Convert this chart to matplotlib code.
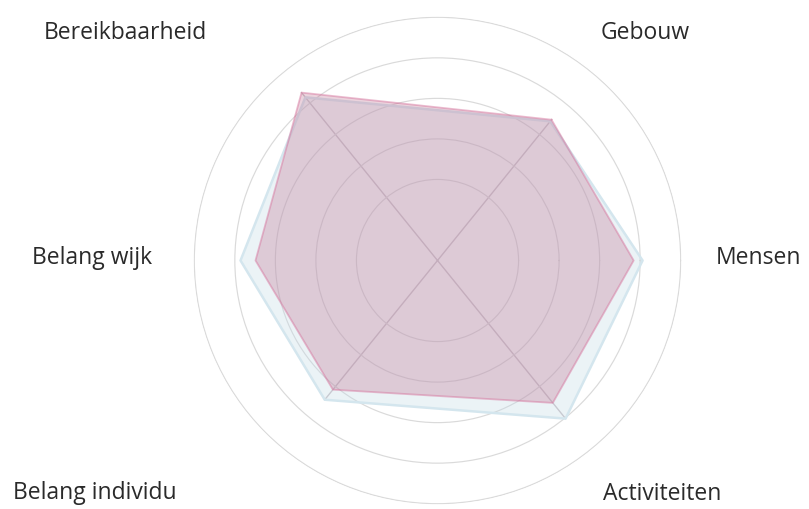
import numpy as np
import matplotlib
matplotlib.use("Agg")
import matplotlib.pyplot as plt

categories = ["Gebouw", "Mensen", "Activiteiten", "Belang individu", "Belang wijk", "Bereikbaarheid"]
angles_deg = [51, 0, -51, -129, 180, 129]
series_blue = [4.42, 5.06, 5.02, 4.42, 4.86, 5.18]
series_pink = [4.47, 4.84, 4.52, 4.10, 4.49, 5.33]
ring_values = [2, 3, 4, 5, 6]

label_pos = {
    "Gebouw": (645, 33),
    "Mensen": (758, 258),
    "Activiteiten": (662, 494),
    "Belang individu": (95, 493),
    "Belang wijk": (92, 258),
    "Bereikbaarheid": (125, 33),
}

W, H = 809, 509
fig = plt.figure(figsize=(W / 100, H / 100), dpi=100)
cx, cy, R = 437.5, 260.5, 244.0
ax = fig.add_axes([(cx - R) / W, (H - cy - R) / H, 2 * R / W, 2 * R / H], projection="polar")

theta = np.deg2rad(angles_deg)
th_closed = np.append(theta, theta[0])

rmax = 6.02
ax.set_ylim(0, rmax)
ax.set_yticks(ring_values)
ax.set_yticklabels([])
ax.set_xticks([])
ax.spines["polar"].set_visible(False)
ax.grid(True, color="#dadada", lw=0.85)
ax.set_facecolor("none")

# diagonal spokes
for t, a, b in zip(theta, series_blue, series_pink):
    if abs(np.rad2deg(t)) in (0, 180):
        continue
    ax.plot([t, t], [0, max(a, b)], color="#cbc3c8", lw=1.0, zorder=1)

vb = np.append(series_blue, series_blue[0])
vp = np.append(series_pink, series_pink[0])
ax.fill(th_closed, vb, color=(195 / 255, 218 / 255, 230 / 255), alpha=0.32, zorder=2, lw=0)
ax.plot(th_closed, vb, color=(212 / 255, 230 / 255, 238 / 255), lw=1.8, zorder=2)
ax.fill(th_closed, vp, color=(188 / 255, 104 / 255, 138 / 255), alpha=0.29, zorder=3, lw=0)
ax.plot(th_closed, vp, color=(215 / 255, 120 / 255, 160 / 255), lw=1.3, alpha=0.5, zorder=3)

for name in categories:
    x, y = label_pos[name]
    fig.text(x / W, 1 - y / H, name, ha="center", va="center", fontsize=16.5,
             family="Open Sans", color="#2a2a2a")

fig.savefig("out.png", dpi=100)
